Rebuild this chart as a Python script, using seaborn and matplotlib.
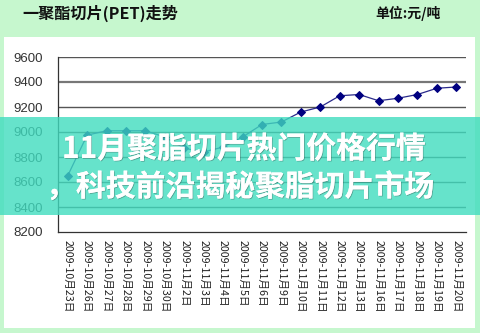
import matplotlib
matplotlib.use("Agg")
import matplotlib.pyplot as plt
import matplotlib.patheffects as pe
from matplotlib.patches import Rectangle
import seaborn as sns
import pandas as pd

# PET chip price series (yuan / tonne)
dates = ["2009-10月23日", "2009-10月26日", "2009-10月27日", "2009-10月28日",
         "2009-10月29日", "2009-10月30日", "2009-11月2日", "2009-11月3日",
         "2009-11月4日", "2009-11月5日", "2009-11月6日", "2009-11月9日",
         "2009-11月10日", "2009-11月11日", "2009-11月12日", "2009-11月13日",
         "2009-11月16日", "2009-11月17日", "2009-11月18日", "2009-11月19日",
         "2009-11月20日"]
prices = [8650, 8975, 9010, 9010, 9010, 8960, 8870, 8840, 8880, 8960, 9060,
          9080, 9160, 9200, 9290, 9300, 9250, 9270, 9300, 9350, 9360]
y_ticks = [8200, 8400, 8600, 8800, 9000, 9200, 9400, 9600]

title_text = "一聚酯切片(PET)走势"
unit_text = "单位:元/吨"
banner_lines = ["11月聚脂切片热门价格行情", "，科技前沿揭秘聚脂切片市场"]

sns.set_style("white")
plt.rcParams["font.family"] = ["Noto Sans CJK SC", "DejaVu Sans"]

W, H = 480, 333
fig = plt.figure(figsize=(W / 100, H / 100), dpi=100)
fig.patch.set_facecolor("#c6f7ce")

# white card behind the chart
fig.add_artist(Rectangle((4 / W, 1 - 328 / H), 471 / W, 291 / H,
                         transform=fig.transFigure, facecolor="white",
                         edgecolor="none", zorder=0))

fig.text(22 / W, 1 - 13 / H, title_text, fontsize=11.6, fontweight="bold",
         color="#111111", va="center", ha="left")
fig.text(375 / W, 1 - 13 / H, unit_text, fontsize=10, fontweight="bold",
         color="#111111", va="center", ha="left")

ax = fig.add_axes([58 / W, 1 - 232 / H, 408 / W, 175 / H])
ax.set_facecolor("none")

df = pd.DataFrame({"pos": range(len(dates)), "price": prices})
sns.lineplot(data=df, x="pos", y="price", ax=ax, color="#2a2a8a",
             linewidth=0.9, marker="D", markersize=4.2,
             markerfacecolor="#000080", markeredgecolor="#000080", zorder=3)

ax.set_xlim(-0.45, len(dates) - 0.55)
ax.set_ylim(8200, 9600)
ax.set_yticks(y_ticks)
ax.set_yticklabels([str(v) for v in y_ticks], fontsize=9.5, color="#333333",
                   family=["Liberation Sans", "DejaVu Sans"])
ax.set_xticks(range(len(dates)))
ax.set_xticklabels(dates, rotation=270, fontsize=7.7, color="#222222",
                   va="top", ha="center")
ax.tick_params(axis="x", length=0, pad=6)
ax.tick_params(axis="y", length=0, pad=11)
# category separators on the baseline
ax.set_xticks([i + 0.5 for i in range(-1, len(dates))], minor=True)
ax.tick_params(axis="x", which="minor", direction="in", length=3,
               color="#333333", width=0.8)
ax.set_xlabel("")
ax.set_ylabel("")

for v in y_ticks[1:]:
    ax.axhline(v, color="#555555" if v != 9400 else "#777777",
               linewidth=1.0 if v != 9400 else 1.6, zorder=1)
for side in ["top", "right"]:
    ax.spines[side].set_visible(False)
ax.spines["left"].set_color("#333333")
ax.spines["bottom"].set_color("#333333")
ax.spines["left"].set_linewidth(0.9)
ax.spines["bottom"].set_linewidth(0.9)

# translucent teal banner with headline
fig.add_artist(Rectangle((0, 1 - 215 / H), 1, 98 / H,
                         transform=fig.transFigure, facecolor="#40dcbf",
                         alpha=0.8, edgecolor="none", zorder=5))
shadow = [pe.withSimplePatchShadow(offset=(0.6, -0.6), shadow_rgbFace="#333333",
                                   alpha=0.35), pe.Normal()]
fig.text(62 / W, 1 - 149 / H, banner_lines[0], fontsize=21.5, fontweight="bold",
         color="white", va="center", ha="left", zorder=6, path_effects=shadow)
fig.text(46 / W, 1 - 187 / H, banner_lines[1], fontsize=21.5, fontweight="bold",
         color="white", va="center", ha="left", zorder=6, path_effects=shadow)

fig.savefig("out.png", dpi=100)
